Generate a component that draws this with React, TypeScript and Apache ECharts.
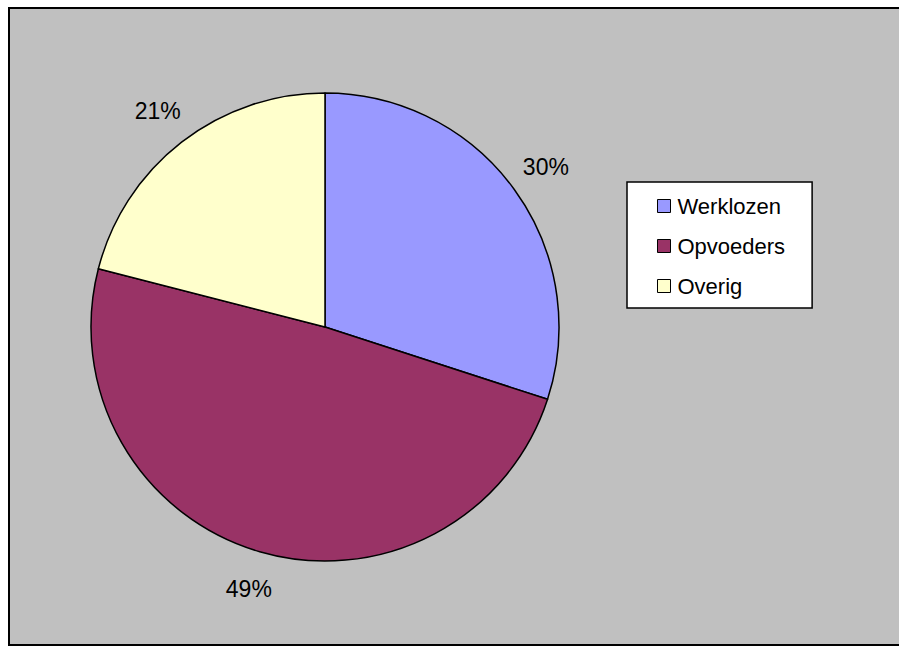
import React, { useEffect, useRef } from "react";
import * as echarts from "echarts";

const categories = ["Werklozen", "Opvoeders", "Overig"];
const values = [30, 49, 21];
const colors = ["#9999FF", "#993366", "#FFFFCC"];

const FONT = '"Liberation Sans", Arial, Helvetica, sans-serif';

export default function App() {
  const ref = useRef<HTMLDivElement>(null);

  useEffect(() => {
    if (!ref.current) return;
    const chart = echarts.init(ref.current, undefined, { renderer: "svg" });
    const data = categories.map((name, i) => ({
      name,
      value: values[i],
      itemStyle: { color: colors[i] },
    }));
    const center = [325, 327];
    chart.setOption({
      animation: false,
      backgroundColor: "#ffffff",
      graphic: [
        {
          type: "rect",
          z: 0,
          silent: true,
          shape: { x: 9, y: 8, width: 1200, height: 637 },
          style: { fill: "#C0C0C0", stroke: "#000000", lineWidth: 2 },
        },
      ],
      legend: {
        orient: "vertical",
        left: 627,
        top: 182,
        padding: [13, 27, 11, 30],
        itemGap: 18,
        itemWidth: 13,
        itemHeight: 13,
        icon: "rect",
        backgroundColor: "#ffffff",
        borderColor: "#000000",
        borderWidth: 1.5,
        borderRadius: 0,
        data: categories,
        itemStyle: { borderColor: "#000000", borderWidth: 1 },
        textStyle: {
          fontFamily: FONT,
          fontSize: 22,
          lineHeight: 22,
          color: "#000000",
          padding: [0, 0, 0, 2],
        },
      },
      series: [
        {
          type: "pie",
          center,
          radius: 234,
          startAngle: 90,
          clockwise: true,
          silent: true,
          data,
          itemStyle: { borderColor: "#000000", borderWidth: 1.5 },
          label: { show: false },
          labelLine: { show: false },
        },
        {
          type: "pie",
          center,
          radius: [0, 540],
          startAngle: 90,
          clockwise: true,
          silent: true,
          data: data.map((d) => ({ name: d.name, value: d.value })),
          itemStyle: { color: "rgba(0,0,0,0)", borderWidth: 0 },
          label: {
            show: true,
            position: "inside",
            formatter: (p: any) => Math.round(p.percent) + "%",
            fontFamily: FONT,
            fontSize: 23,
            color: "#000000",
          },
          labelLine: { show: false },
        },
      ],
    });
    return () => chart.dispose();
  }, []);

  return (
    <div
      ref={ref}
      style={{ position: "absolute", left: 0, top: 0, width: 899, height: 646 }}
    />
  );
}
